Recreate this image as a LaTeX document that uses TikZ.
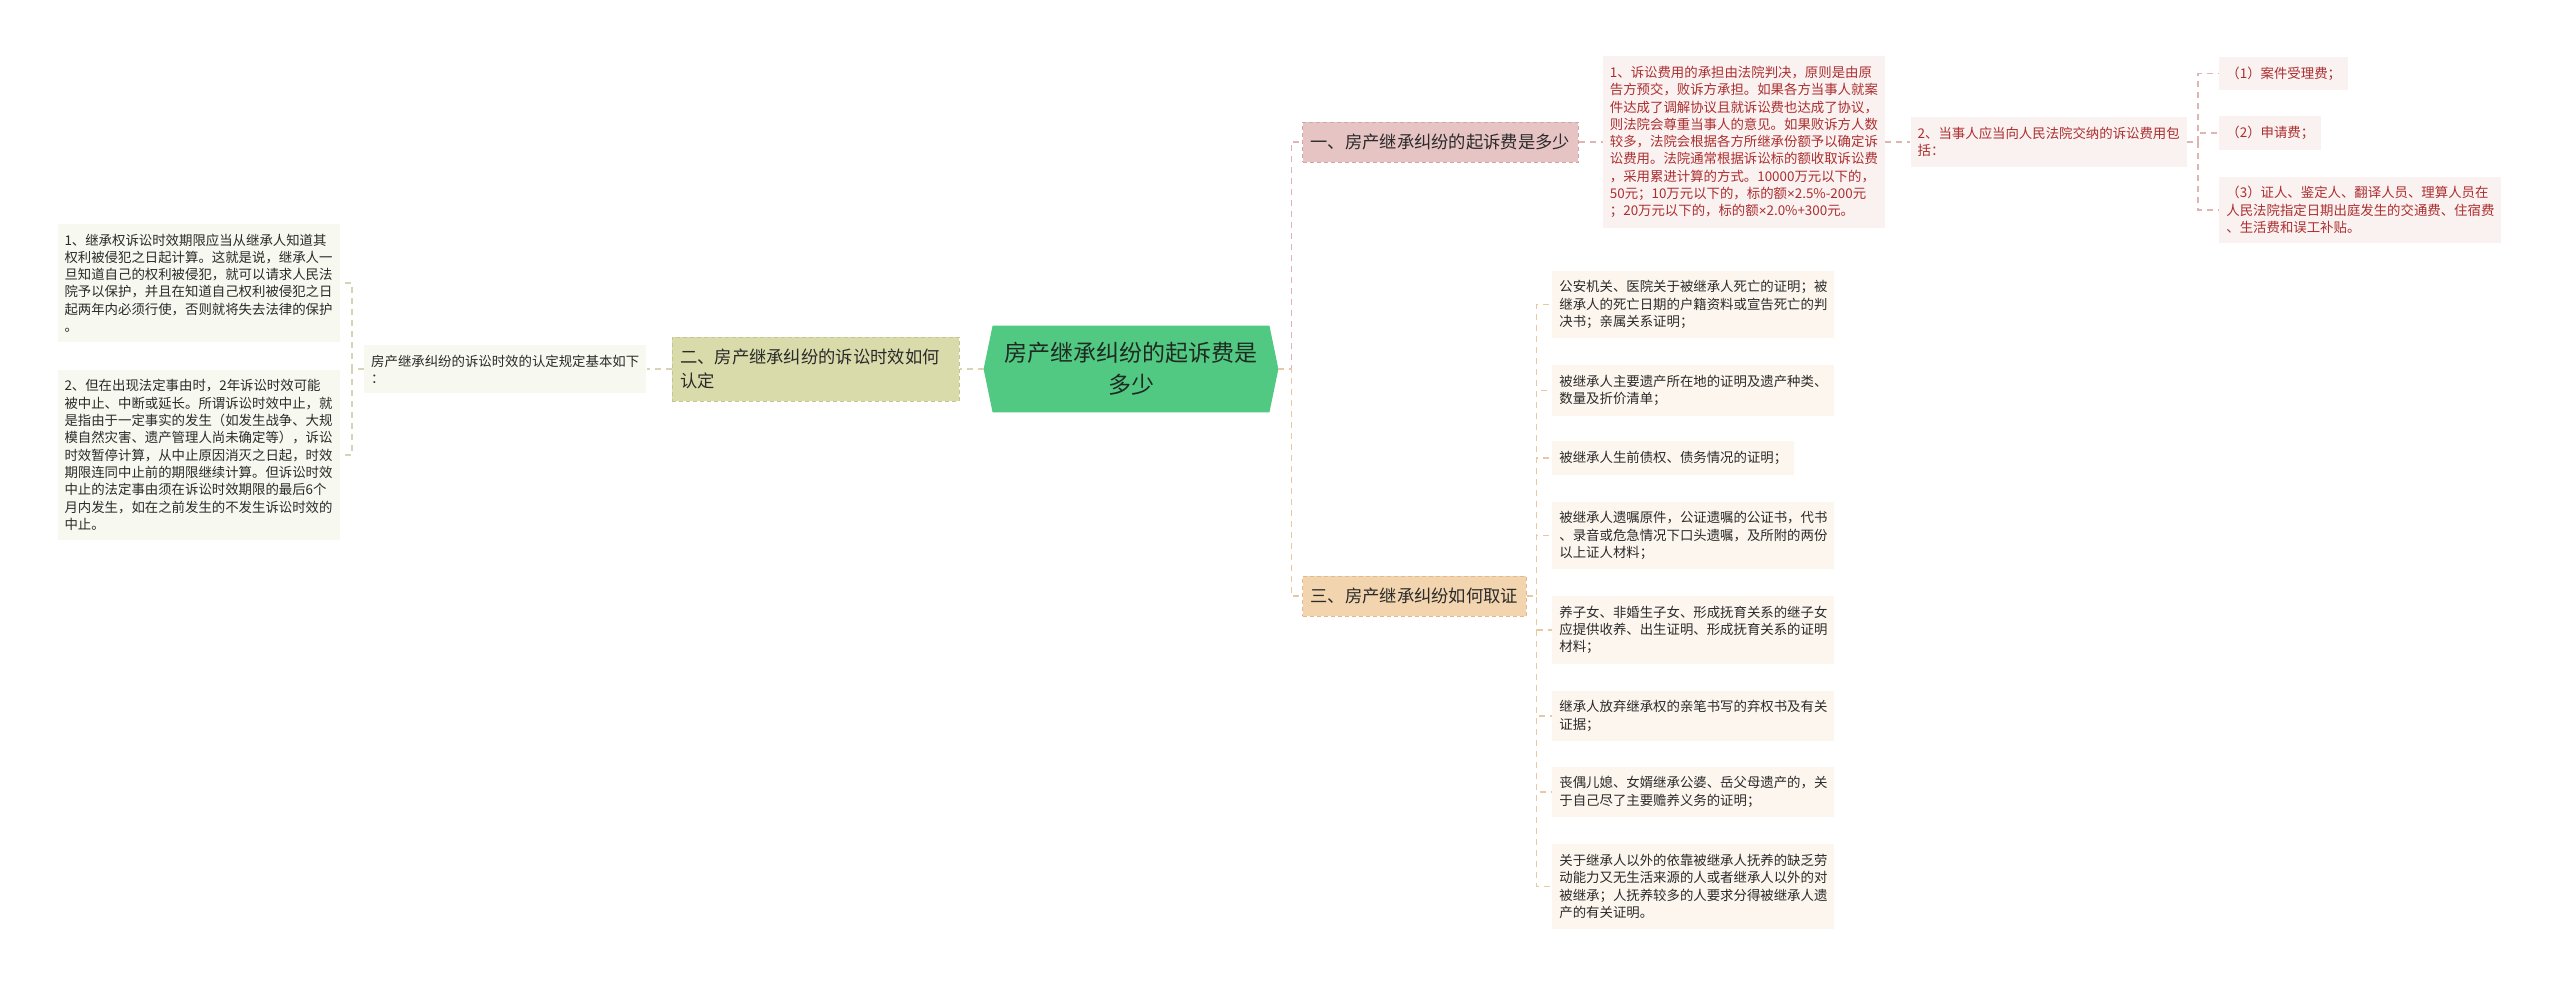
\documentclass[tikz,border=0pt]{standalone}
\usepackage{fontspec}
\setmainfont{Noto Sans CJK SC}
\newfontfamily\latinfont{Liberation Sans}
\usepackage{tikz}
\usetikzlibrary{positioning, backgrounds}

\definecolor{hubgreen}{HTML}{52C982}
\definecolor{hubink}{HTML}{1E2A22}
\definecolor{ink}{HTML}{2A2A2A}
\definecolor{olivefill}{HTML}{D9DBAB}
\definecolor{oliveline}{HTML}{C4C690}
\definecolor{olivepale}{HTML}{F7F8EF}
\definecolor{olivelink}{HTML}{D6D4B4}
\definecolor{rosefill}{HTML}{E7C4C4}
\definecolor{roseline}{HTML}{D3A6A6}
\definecolor{rosepale}{HTML}{FAF1F1}
\definecolor{roseink}{HTML}{AC2F2F}
\definecolor{roselink}{HTML}{DDB5B5}
\definecolor{peachfill}{HTML}{F2D4AF}
\definecolor{peachline}{HTML}{E0BA8C}
\definecolor{peachpale}{HTML}{FDF6EE}
\definecolor{peachlink}{HTML}{E6C9A3}

\newcommand{\tms}{{\latinfont ×}}

\begin{document}
\begin{tikzpicture}[x=0.5pt, y=-0.5pt,
    hub/.style={rectangle, minimum width=147pt, minimum height=43pt, inner sep=0pt, align=center, text=hubink, font=\fontsize{11.5pt}{16pt}\selectfont},
    topic/.style={rectangle, line width=0.5pt, dash pattern=on 2pt off 1.5pt, inner xsep=4pt, inner ysep=0pt, minimum height=20pt, align=left, text=ink, font=\fontsize{8.65pt}{12pt}\selectfont},
    detail/.style={rectangle, inner xsep=3.5pt, inner ysep=4.9pt, align=left, text=ink, font=\fontsize{6.7pt}{8.65pt}\selectfont},
    link/.style={line width=0.75pt, dash pattern=on 3pt off 2.5pt}]
    \useasboundingbox (0,0) rectangle (2560,986);

    \node (root) [hub] at (1131,369) {房产继承纠纷的起诉费是\\多少};

    \node (b2) [topic, fill=olivefill, draw=oliveline, text width=135.5pt, minimum height=32pt, left=12pt of root] {二、房产继承纠纷的诉讼时效如何\\认定};
    \node (l2) [detail, fill=olivepale, left=12.5pt of b2] {房产继承纠纷的诉讼时效的认定规定基本如下\\：};
    \node (n1) [detail, fill=olivepale] at (198.5,283) {1、继承权诉讼时效期限应当从继承人知道其\\权利被侵犯之日起计算。这就是说，继承人一\\旦知道自己的权利被侵犯，就可以请求人民法\\院予以保护，并且在知道自己权利被侵犯之日\\起两年内必须行使，否则就将失去法律的保护\\。};
    \node (n2) [detail, fill=olivepale] at (198.5,455) {2、但在出现法定事由时，2年诉讼时效可能\\被中止、中断或延长。所谓诉讼时效中止，就\\是指由于一定事实的发生（如发生战争、大规\\模自然灾害、遗产管理人尚未确定等），诉讼\\时效暂停计算，从中止原因消灭之日起，时效\\期限连同中止前的期限继续计算。但诉讼时效\\中止的法定事由须在诉讼时效期限的最后6个\\月内发生，如在之前发生的不发生诉讼时效的\\中止。};

    \node (b1) [topic, fill=rosefill, draw=roseline, anchor=west] at (1302,142) {一、房产继承纠纷的起诉费是多少};
    \node (r1) [detail, fill=rosepale, text=roseink, right=12pt of b1] {1、诉讼费用的承担由法院判决，原则是由原\\告方预交，败诉方承担。如果各方当事人就案\\件达成了调解协议且就诉讼费也达成了协议，\\则法院会尊重当事人的意见。如果败诉方人数\\较多，法院会根据各方所继承份额予以确定诉\\讼费用。法院通常根据诉讼标的额收取诉讼费\\，采用累进计算的方式。10000万元以下的，\\50元；10万元以下的，标的额\tms2.5\%-200元\\；20万元以下的，标的额\tms2.0\%+300元。};
    \node (r2) [detail, fill=rosepale, text=roseink, right=12.5pt of r1] {2、当事人应当向人民法院交纳的诉讼费用包\\括：};
    \node (p1) [detail, fill=rosepale, text=roseink, anchor=west] at (2219,73.5) {（1）案件受理费；};
    \node (p2) [detail, fill=rosepale, text=roseink, anchor=west] at (2219,133) {（2）申请费；};
    \node (p3) [detail, fill=rosepale, text=roseink, anchor=west] at (2219,210) {（3）证人、鉴定人、翻译人员、理算人员在\\人民法院指定日期出庭发生的交通费、住宿费\\、生活费和误工补贴。};

    \node (b3) [topic, fill=peachfill, draw=peachline, anchor=west] at (1302,596) {三、房产继承纠纷如何取证};
    \node (e1) [detail, fill=peachpale, anchor=west] at (1552,304.5) {公安机关、医院关于被继承人死亡的证明；被\\继承人的死亡日期的户籍资料或宣告死亡的判\\决书；亲属关系证明；};
    \node (e2) [detail, fill=peachpale, anchor=west] at (1552,390.5) {被继承人主要遗产所在地的证明及遗产种类、\\数量及折价清单；};
    \node (e3) [detail, fill=peachpale, anchor=west] at (1552,458) {被继承人生前债权、债务情况的证明；};
    \node (e4) [detail, fill=peachpale, anchor=west] at (1552,535.5) {被继承人遗嘱原件，公证遗嘱的公证书，代书\\、录音或危急情况下口头遗嘱，及所附的两份\\以上证人材料；};
    \node (e5) [detail, fill=peachpale, anchor=west] at (1552,630) {养子女、非婚生子女、形成抚育关系的继子女\\应提供收养、出生证明、形成抚育关系的证明\\材料；};
    \node (e6) [detail, fill=peachpale, anchor=west] at (1552,716) {继承人放弃继承权的亲笔书写的弃权书及有关\\证据；};
    \node (e7) [detail, fill=peachpale, anchor=west] at (1552,792) {丧偶儿媳、女婿继承公婆、岳父母遗产的，关\\于自己尽了主要赡养义务的证明；};
    \node (e8) [detail, fill=peachpale, anchor=west] at (1552,886.5) {关于继承人以外的依靠被继承人抚养的缺乏劳\\动能力又无生活来源的人或者继承人以外的对\\被继承；人抚养较多的人要求分得被继承人遗\\产的有关证明。};

    \begin{scope}[on background layer]
        \fill[white] (0,0) rectangle (2560,986);
        \fill[hubgreen] (root.west) -- ([xshift=4.5pt]root.north west) -- ([xshift=-4.5pt]root.north east) -- (root.east) -- ([xshift=-4.5pt]root.south east) -- ([xshift=4.5pt]root.south west) -- cycle;
    \end{scope}

    \draw[link, olivelink] (root.west) -- (b2.east);
    \draw[link, olivelink] (b2.west) -- (l2.east);
    \draw[link, olivelink] (l2.west) -- ++(-12,0) |- (n1.east);
    \draw[link, olivelink] (l2.west) -- ++(-12,0) |- (n2.east);

    \draw[link, roselink] (root.east) -- ++(13,0) |- (b1.west);
    \draw[link, peachlink] (root.east) -- ++(13,0) |- (b3.west);
    \draw[link, roselink] (b1.east) -- (r1.west);
    \draw[link, roselink] (r1.east) -- (r2.west);
    \foreach \p in {p1,p2,p3}
        \draw[link, roselink] (r2.east) -- ++(11,0) |- (\p.west);
    \foreach \e in {e1,e2,e3,e4,e5,e6,e7,e8}
        \draw[link, peachlink] (b3.east) -- ++(10,0) |- (\e.west);

\end{tikzpicture}
\end{document}
